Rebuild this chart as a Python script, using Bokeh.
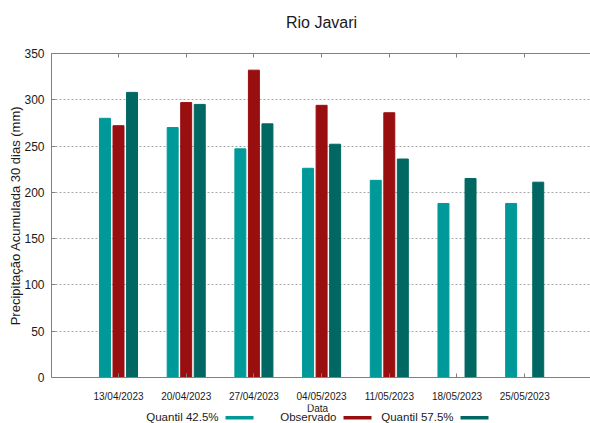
from bokeh.plotting import figure
from bokeh.layouts import column
from bokeh.models import ColumnDataSource, FixedTicker, LinearAxis, Range1d
from bokeh.core.properties import value
from bokeh.transform import dodge
from bokeh.embed import file_html
from bokeh.resources import INLINE

# ---- data ----
title_text = "Rio Javari"
x_title = "Data"
y_title = "Precipitação Acumulada 30 dias (mm)"
dates = ["13/04/2023", "20/04/2023", "27/04/2023", "04/05/2023",
         "11/05/2023", "18/05/2023", "25/05/2023"]
positions = [1, 2, 3, 4, 5, 6, 7]
quantil_425 = [280, 270, 247, 226, 213, 188, 188]
observado = [272, 297, 332, 294, 286, float("nan"), float("nan")]
quantil_575 = [308, 295, 274, 252, 236, 215, 211]
y_ticks = [0, 50, 100, 150, 200, 250, 300, 350]
series_names = ["Quantil 42.5%", "Observado", "Quantil 57.5%"]

C_Q425 = "#009999"
C_OBS = "#990f0f"
C_Q575 = "#006763"
series_colors = [C_Q425, C_OBS, C_Q575]
FONT = "Liberation Sans"
TXT = "#1a1a1a"
AX = "#808080"
W = 590
LEFT = 51   # left border shared by all stacked figures


def strip(h):
    # a figure whose frame is aligned with the main chart; x in page pixels
    f = figure(width=W, height=h, x_range=Range1d(LEFT, W),
               y_range=Range1d(h, 0), output_backend="svg",
               toolbar_location=None, min_border_left=LEFT,
               min_border_right=0, min_border_top=0, min_border_bottom=0,
               x_axis_type=None, y_axis_type=None)
    f.outline_line_color = None
    f.grid.grid_line_color = None
    return f


# ---- title strip ----
TOP_H = 35
head = strip(TOP_H)
head.text(x=[321], y=[22], text=[title_text], text_align="center",
          text_baseline="middle", text_font=value(FONT),
          text_font_size=value("16px"), text_color=TXT)

# ---- main chart ----
src = ColumnDataSource(dict(x=positions, q425=quantil_425, obs=observado,
                            q575=quantil_575))

MAIN_H = 369
p = figure(width=W, height=MAIN_H, x_range=Range1d(0.0103, 7.972),
           y_range=Range1d(0, 350), output_backend="svg",
           toolbar_location=None, min_border_left=LEFT, min_border_right=0,
           min_border_top=53 - TOP_H, min_border_bottom=27)
p.outline_line_color = None

bw = 0.162
p.vbar(x=dodge("x", -0.2, range=p.x_range), top="q425", width=bw,
       source=src, fill_color=C_Q425, line_color=C_Q425)
p.vbar(x=dodge("x", 0.0, range=p.x_range), top="obs", width=bw,
       source=src, fill_color=C_OBS, line_color=C_OBS)
p.vbar(x=dodge("x", 0.2, range=p.x_range), top="q575", width=bw,
       source=src, fill_color=C_Q575, line_color=C_Q575)

xa = p.xaxis[0]
xa.ticker = FixedTicker(ticks=positions)
xa.major_label_overrides = {pos: d for pos, d in zip(positions, dates)}
xa.major_label_text_font = FONT
xa.major_label_text_font_size = "10px"
xa.major_label_text_color = TXT
xa.major_label_standoff = 13
xa.major_tick_in = 4
xa.major_tick_out = 0
xa.minor_tick_line_color = None
xa.axis_line_color = AX
xa.major_tick_line_color = AX

ya = p.yaxis[0]
ya.ticker = FixedTicker(ticks=y_ticks)
ya.major_label_text_font = FONT
ya.major_label_text_font_size = "12px"
ya.major_label_text_color = TXT
ya.major_label_standoff = 7
ya.major_tick_in = 4
ya.major_tick_out = 0
ya.minor_tick_line_color = None
ya.axis_line_color = AX
ya.major_tick_line_color = AX
ya.axis_label = y_title
ya.axis_label_text_font = FONT
ya.axis_label_text_font_size = "13px"
ya.axis_label_text_font_style = "normal"
ya.axis_label_text_color = TXT
ya.axis_label_standoff = -2

top = LinearAxis(ticker=FixedTicker(ticks=positions),
                 major_label_overrides={pos: "" for pos in positions},
                 major_tick_in=4, major_tick_out=0,
                 minor_tick_line_color=None,
                 axis_line_color=AX, major_tick_line_color=AX,
                 major_label_standoff=0)
p.add_layout(top, "above")

p.xgrid.grid_line_color = None
p.ygrid.ticker = FixedTicker(ticks=y_ticks[1:-1])
p.ygrid.grid_line_color = "#a8a8a8"
p.ygrid.grid_line_dash = "2 2"

# ---- x title + legend strip (legend text followed by its swatch) ----
BOT_H = 423 - TOP_H - MAIN_H
foot = strip(BOT_H)
foot.text(x=[317], y=[3.6], text=[x_title], text_align="center",
          text_baseline="middle", text_font=value(FONT),
          text_font_size=value("10px"), text_color=TXT)
text_right = [218, 336, 453]
foot.text(x=text_right, y=[12] * 3, text=series_names, text_align="right",
          text_baseline="middle", text_font=value(FONT),
          text_font_size=value("11.5px"), text_color=TXT)
foot.quad(left=[x + 7 for x in text_right],
          right=[x + 35 for x in text_right],
          top=[11.5] * 3, bottom=[15] * 3, fill_color=series_colors,
          line_color=None)

layout = column(head, p, foot, spacing=0)
open("out.html", "w").write(file_html(layout, INLINE))
